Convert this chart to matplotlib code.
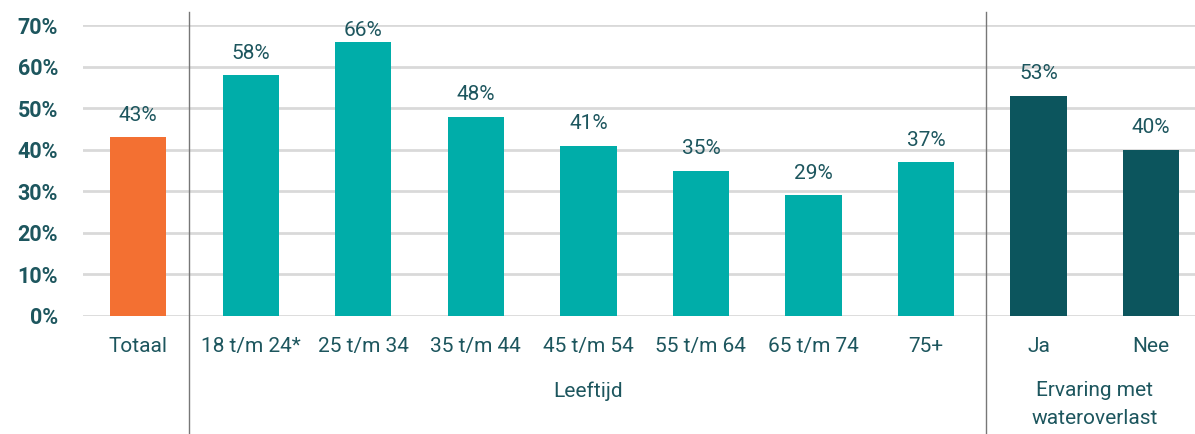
import matplotlib.pyplot as plt
from matplotlib.ticker import PercentFormatter
from matplotlib.lines import Line2D

categories = ['Totaal', '18 t/m 24*', '25 t/m 34', '35 t/m 44', '45 t/m 54',
              '55 t/m 64', '65 t/m 74', '75+', 'Ja', 'Nee']
values = [43, 58, 66, 48, 41, 35, 29, 37, 53, 40]
groups = ['totaal', 'leeftijd', 'leeftijd', 'leeftijd', 'leeftijd',
          'leeftijd', 'leeftijd', 'leeftijd', 'ervaring', 'ervaring']
group_labels = [('Leeftijd', 1, 7), ('Ervaring met\nwateroverlast', 8, 9)]

colors = {'totaal': '#F37032', 'leeftijd': '#00ADA9', 'ervaring': '#0C555D'}
text_col = '#1D565E'

plt.rcParams['font.family'] = ['Roboto', 'DejaVu Sans']

fig = plt.figure(figsize=(11.95, 4.34), dpi=100)
ax = fig.add_axes([0.0695, 0.272, 0.9305, 0.670])

x = list(range(len(categories)))
ax.bar(x, values, width=0.5, color=[colors[g] for g in groups], zorder=3)

# labels are kept inside the plot area near the top
for xi, v in zip(x, values):
    ax.annotate(f'{v}%', (xi, min(v, 63.5)), xytext=(0, 9), textcoords='offset points',
                ha='center', va='bottom', fontsize=15, color=text_col)

ax.set_ylim(0, 70)
ax.set_xlim(-0.49, 9.39)
ax.set_yticks(range(0, 71, 10))
ax.yaxis.set_major_formatter(PercentFormatter(decimals=0))
ax.grid(axis='y', color='#D9D9D9', linewidth=2, zorder=0)
ax.tick_params(axis='y', length=0, pad=18, labelsize=15.5, labelcolor=text_col)
for lab in ax.get_yticklabels():
    lab.set_fontweight('bold')

ax.set_xticks(x)
ax.set_xticklabels(categories)
ax.tick_params(axis='x', length=0, pad=15, labelsize=15, labelcolor=text_col)

for s in ax.spines.values():
    s.set_visible(False)

# group labels below the category labels
for name, a, b in group_labels:
    ax.annotate(name, ((a + b) / 2, 0), xytext=(0, -47), textcoords='offset points',
                ha='center', va='top', fontsize=15, color=text_col,
                annotation_clip=False, linespacing=1.6)

# separators between the groups
for sep in (0.455, 7.53):
    xf = ax.transData.transform((sep, 0))[0] / fig.bbox.width
    fig.add_artist(Line2D([xf, xf], [0, 1 - 12 / 434], color='#777777', linewidth=1))

fig.savefig('out.png', dpi=100)
